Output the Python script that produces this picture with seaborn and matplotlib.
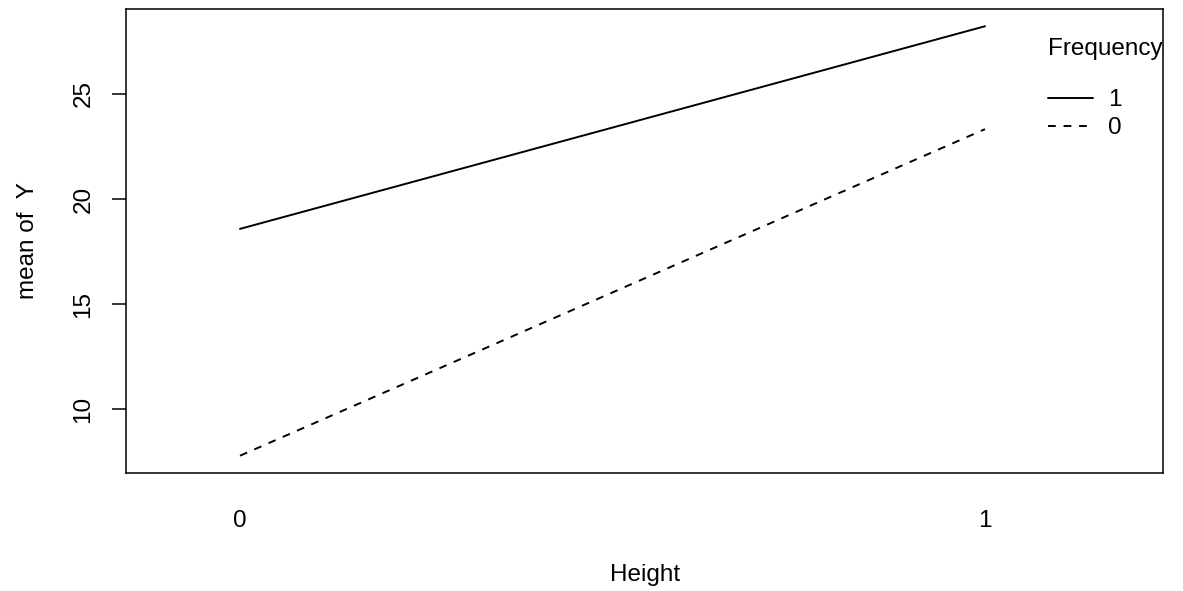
import pandas as pd
import seaborn as sns
import matplotlib.pyplot as plt

# mean of Y per Height level, one line per Frequency level
height = [0, 1]
freq_1 = [18.58, 28.21]
freq_0 = [7.80, 23.32]
freq_levels = ['1', '0']
y_ticks = [10, 15, 20, 25]

df = pd.DataFrame({
    'Height': height * 2,
    'Y': freq_1 + freq_0,
    'Frequency': ['1'] * len(height) + ['0'] * len(height),
})

sns.set_style('ticks')
plt.rcParams['font.family'] = ['Liberation Sans', 'DejaVu Sans']
plt.rcParams['font.size'] = 17.5
for key in ['text.color', 'axes.labelcolor', 'xtick.color', 'ytick.color']:
    plt.rcParams[key] = 'black'

fig = plt.figure(figsize=(11.83, 5.91), dpi=100)
ax = fig.add_axes([0.1069, 0.1997, 0.8762, 0.7851])

sns.lineplot(data=df, x='Height', y='Y', hue='Frequency', style='Frequency',
             hue_order=freq_levels, style_order=freq_levels,
             palette={'1': 'black', '0': 'black'},
             dashes={'1': '', '0': (4, 4)},
             linewidth=1.4, ax=ax)

ax.set_xlim(-0.1524, 1.2389)
ax.set_ylim(6.98, 29.03)
ax.set_xticks(height)
ax.set_xticklabels([str(h) for h in height])
ax.set_yticks(y_ticks)
ax.set_yticklabels([str(t) for t in y_ticks], rotation=90, va='center')
ax.tick_params(axis='x', length=0, pad=27)
ax.tick_params(axis='y', length=10, width=1.1, pad=13)
for sp in ax.spines.values():
    sp.set_visible(True)
    sp.set_linewidth(1.1)
    sp.set_color('black')

ax.set_xlabel('Height', labelpad=23)
ax.set_ylabel('mean of  Y', labelpad=24)

leg = ax.legend(title='Frequency', loc='upper left', bbox_to_anchor=(0.880, 0.958),
                frameon=False, handlelength=1.85, handletextpad=0.6,
                labelspacing=0.25, alignment='left', borderaxespad=0,
                fontsize=17.5, title_fontsize=17.5)
leg._legend_box.sep = 21

fig.savefig('out.png', dpi=100)
